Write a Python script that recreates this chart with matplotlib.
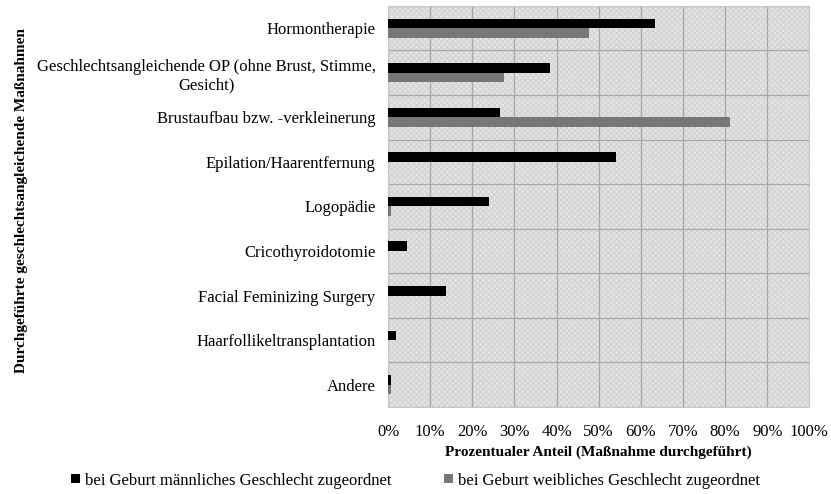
import numpy as np
import matplotlib.pyplot as plt
from matplotlib.ticker import MultipleLocator, PercentFormatter

plt.rcParams['font.family'] = ['Liberation Serif', 'DejaVu Serif']

# Data
categories = [
    'Hormontherapie',
    'Geschlechtsangleichende OP (ohne Brust, Stimme,\nGesicht)',
    'Brustaufbau bzw. -verkleinerung',
    'Epilation/Haarentfernung',
    'Logopädie',
    'Cricothyroidotomie',
    'Facial Feminizing Surgery',
    'Haarfollikeltransplantation',
    'Andere',
]
maennlich = [63.4, 38.5, 26.6, 54.2, 23.9, 4.6, 13.8, 1.9, 0.8]
weiblich = [47.8, 27.4, 81.1, 0.0, 0.8, 0.0, 0.0, 0.0, 0.6]

label_m = 'bei Geburt männliches Geschlecht zugeordnet'
label_w = 'bei Geburt weibliches Geschlecht zugeordnet'

fig = plt.figure(figsize=(8.31, 4.94), dpi=100)
ax = fig.add_axes([0.467, 0.176, 0.507, 0.812])

# hatched light grey plot background
ax.patch.set_facecolor('#e6e6e6')
ax.patch.set_hatch('xxxxxx')
ax.patch.set_edgecolor('#d4d4d4')
ax.patch.set_linewidth(0)

y = np.arange(len(categories))
h = 0.215
ax.barh(y - h / 2, maennlich, height=h, color='black', label=label_m, zorder=3)
ax.barh(y + h / 2, weiblich, height=h, color='#777777', label=label_w, zorder=3)

ax.set_xlim(0, 100)
ax.set_ylim(len(categories) - 0.5, -0.5)
ax.xaxis.set_major_locator(MultipleLocator(10))
ax.xaxis.set_major_formatter(PercentFormatter(decimals=0))

# grid: vertical at every 10 %, horizontal between categories
ax.set_yticks(y)
ax.set_yticks(np.arange(-0.5, len(categories)), minor=True)
ax.grid(axis='x', which='major', color='#a8a8a8', linewidth=0.9, zorder=1)
ax.grid(axis='y', which='minor', color='#a8a8a8', linewidth=0.9, zorder=1)
ax.set_axisbelow(True)

ax.set_yticklabels(categories, fontsize=12, multialignment='center')
ax.tick_params(axis='both', which='both', length=0)
ax.tick_params(axis='y', pad=9)
ax.tick_params(axis='x', labelsize=12, pad=12)

for s in ax.spines.values():
    s.set_color('#c8c8c8')
    s.set_linewidth(0.8)

ax.set_xlabel('Prozentualer Anteil (Maßnahme durchgeführt)', fontsize=11,
              fontweight='bold', labelpad=4)
fig.text(0.026, 0.595, 'Durchgeführte geschlechtsangleichende Maßnahmen', rotation=90,
         fontsize=11, fontweight='bold', ha='center', va='center')

fig.legend(loc='center', bbox_to_anchor=(0.5, 0.027), ncol=2, frameon=False,
           fontsize=12, handlelength=0.5, handleheight=0.5, handletextpad=0.3,
           columnspacing=3.2, borderaxespad=0, borderpad=0)

fig.savefig('out.png', dpi=100)
